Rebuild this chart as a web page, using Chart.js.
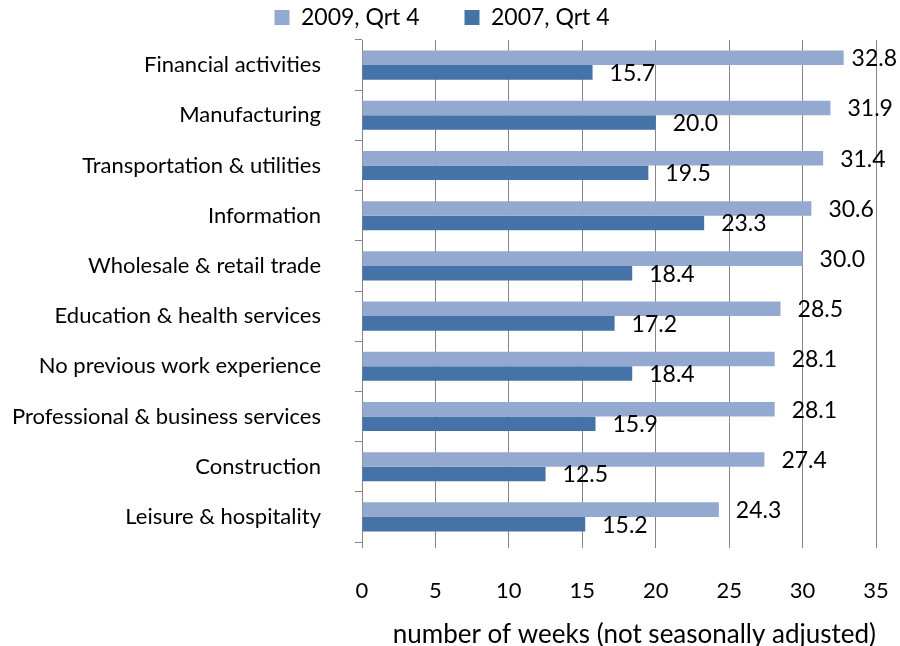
<!DOCTYPE html>
<html>
<head>
<meta charset="utf-8">
<script src="https://cdn.jsdelivr.net/npm/chart.js@4/dist/chart.umd.min.js"></script>
<style>
  html, body { margin: 0; padding: 0; background: #fff; }
  #wrap { width: 900px; height: 646px; }
</style>
</head>
<body>
<div id="wrap"><canvas id="durationChart"></canvas></div>
<script>
// Median duration of unemployment by industry
const categories = [
    'Financial activities',
    'Manufacturing',
    'Transportation & utilities',
    'Information',
    'Wholesale & retail trade',
    'Education & health services',
    'No previous work experience',
    'Professional & business services',
    'Construction',
    'Leisure & hospitality'
];
const weeks2009 = [32.8, 31.9, 31.4, 30.6, 30.0, 28.5, 28.1, 28.1, 27.4, 24.3];
const weeks2007 = [15.7, 20.0, 19.5, 23.3, 18.4, 17.2, 18.4, 15.9, 12.5, 15.2];
const xTickValues = [0, 5, 10, 15, 20, 25, 30, 35];

const FONT = 'Lato';
const gridGray = '#868686';

// values printed at the end of each bar
const valueLabels = {
    id: 'valueLabels',
    afterDatasetsDraw(chart) {
        const ctx = chart.ctx;
        ctx.save();
        ctx.font = '23px ' + FONT;
        ctx.fillStyle = '#000';
        ctx.textBaseline = 'middle';
        ctx.textAlign = 'left';
        chart.data.datasets.forEach((ds, i) => {
            chart.getDatasetMeta(i).data.forEach((bar, j) => {
                const txt = ds.data[j].toFixed(1);
                const w = ctx.measureText(txt).width;
                let x = bar.x + 17;
                if (x + w > chart.width - 3) x = chart.width - 3 - w;
                ctx.fillText(txt, x, bar.y + 1);
            });
        });
        ctx.restore();
    }
};

// legend: fixed height, then nudged to sit like the original
const legendPlacement = {
    id: 'legendPlacement',
    beforeInit(chart) {
        const fit = chart.legend.fit;
        chart.legend.fit = function () {
            fit.call(this);
            this.height = 40;
        };
    },
    beforeDraw(chart) {
        const lg = chart.legend;
        lg.top = -39;
        lg.left += 4;
        lg.right += 4;
    }
};

new Chart(document.getElementById('durationChart'), {
    type: 'bar',
    data: {
        labels: categories,
        datasets: [
            {
                label: '2009, Qrt 4',
                data: weeks2009,
                backgroundColor: '#94A9D0',
                barPercentage: 1.0,
                categoryPercentage: 0.58
            },
            {
                label: '2007, Qrt 4',
                data: weeks2007,
                backgroundColor: '#4572A7',
                barPercentage: 1.0,
                categoryPercentage: 0.58
            }
        ]
    },
    options: {
        indexAxis: 'y',
        responsive: true,
        maintainAspectRatio: false,
        animation: false,
        layout: { padding: { top: 0, right: 24, bottom: 0, left: 0 } },
        plugins: {
            legend: {
                position: 'top',
                labels: {
                    boxWidth: 15,
                    boxHeight: 15,
                    padding: 45,
                    color: '#000',
                    font: { family: FONT, size: 23 }
                }
            },
            tooltip: { enabled: false }
        },
        scales: {
            x: {
                min: 0,
                max: 35,
                afterBuildTicks: (scale) => {
                    scale.ticks = xTickValues.map(v => ({ value: v }));
                },
                afterFit: (scale) => { scale.height = 104; },
                grid: { color: gridGray, tickLength: 6 },
                border: { display: false },
                ticks: {
                    color: '#000',
                    padding: 3,
                    font: { family: FONT, size: 22, lineHeight: '80px' }
                },
                title: {
                    display: true,
                    align: 'end',
                    text: 'number of weeks (not seasonally adjusted)',
                    color: '#000',
                    padding: { top: 0, bottom: 0 },
                    font: { family: FONT, size: 26, lineHeight: 0.9 }
                }
            },
            y: {
                afterFit: (scale) => { scale.width = 362; },
                grid: { color: gridGray, drawOnChartArea: false, tickLength: 7 },
                border: { display: true, color: gridGray },
                ticks: {
                    color: '#000',
                    padding: 34,
                    font: { family: FONT, size: 22, lineHeight: '4px' }
                }
            }
        }
    },
    plugins: [legendPlacement, valueLabels]
});
</script>
</body>
</html>
